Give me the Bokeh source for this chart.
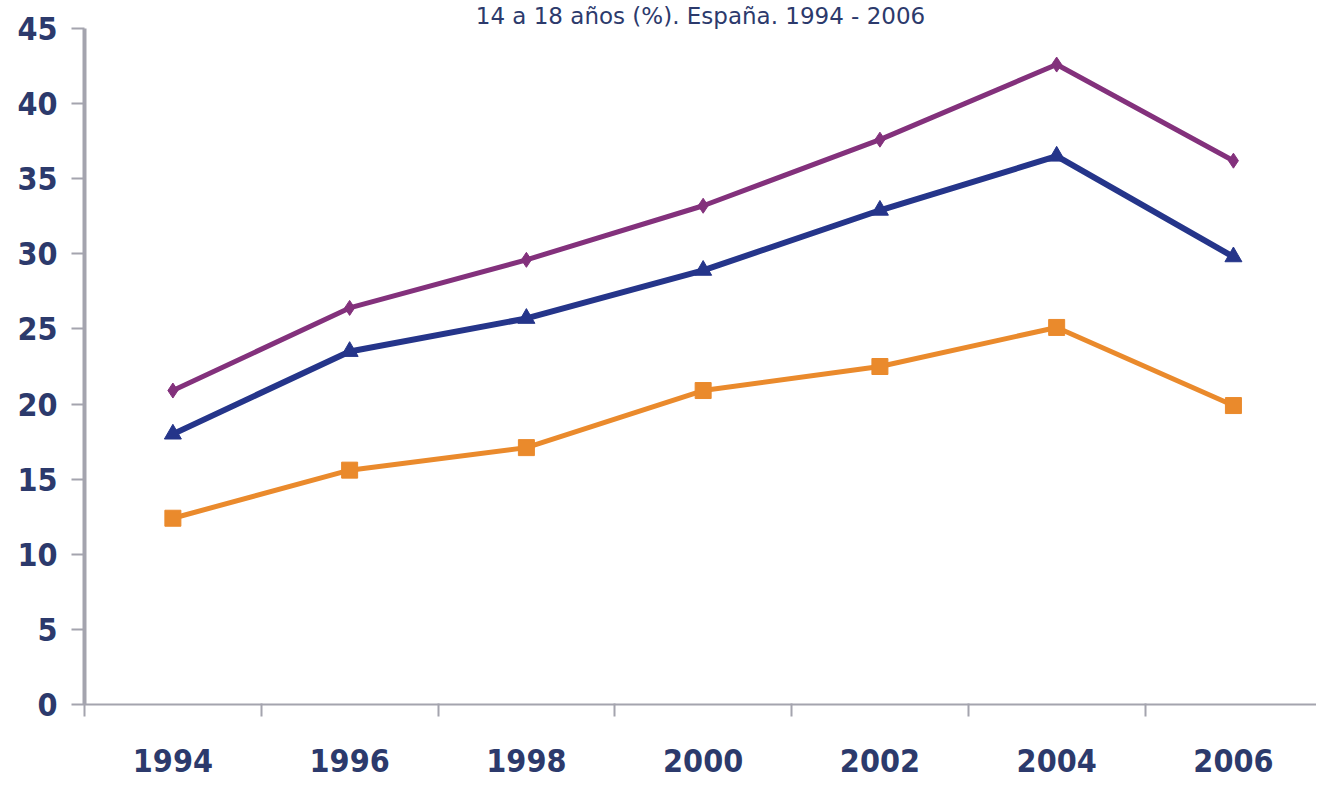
from bokeh.plotting import figure
from bokeh.models import Range1d, FixedTicker
from bokeh.embed import file_html
from bokeh.resources import INLINE

years = ["1994", "1996", "1998", "2000", "2002", "2004", "2006"]
serie_morada = [20.9, 26.4, 29.6, 33.2, 37.6, 42.6, 36.2]
serie_azul = [18.0, 23.5, 25.7, 28.9, 32.9, 36.5, 29.8]
serie_naranja = [12.4, 15.6, 17.1, 20.9, 22.5, 25.1, 19.9]
y_ticks = [0, 5, 10, 15, 20, 25, 30, 35, 40, 45]
title_text = "14 a 18 años (%). España. 1994 - 2006"

xs = list(range(len(years)))

p = figure(width=1316, height=778, output_backend="svg", toolbar_location=None,
           x_range=Range1d(-0.5, 6.47), y_range=Range1d(0, 45),
           min_border_left=84, min_border_right=0, min_border_top=0, min_border_bottom=74,
           title=title_text)
p.title.align = "center"
p.title.text_font = "DejaVu Sans"
p.title.text_font_style = "normal"
p.title.text_font_size = "23px"
p.title.text_color = "#2c3a6c"
p.title.standoff = 0
p.title.offset = 0

p.outline_line_color = None
p.grid.visible = False
p.background_fill_color = "white"
p.border_fill_color = "white"

label_color = "#2c3a6c"
axis_gray = "#a4a4ae"
font = "DejaVu Sans Condensed"

# x axis
p.xaxis.ticker = FixedTicker(ticks=xs, minor_ticks=[i - 0.5 for i in range(len(years) + 1)])
p.xaxis.major_label_overrides = {i: y for i, y in enumerate(years)}
p.xaxis.major_tick_line_color = None
p.xaxis.major_tick_out = 0
p.xaxis.major_tick_in = 0
p.xaxis.minor_tick_line_color = axis_gray
p.xaxis.minor_tick_line_width = 2
p.xaxis.minor_tick_out = 12
p.xaxis.minor_tick_in = 1
p.xaxis.axis_line_color = axis_gray
p.xaxis.axis_line_width = 2
p.xaxis.major_label_standoff = 32
p.xaxis.major_label_text_font = font
p.xaxis.major_label_text_font_style = "bold"
p.xaxis.major_label_text_font_size = "32px"
p.xaxis.major_label_text_color = label_color

# y axis
p.yaxis.ticker = FixedTicker(ticks=y_ticks, minor_ticks=[])
p.yaxis.major_tick_line_color = axis_gray
p.yaxis.major_tick_line_width = 2
p.yaxis.major_tick_out = 13
p.yaxis.major_tick_in = 0
p.yaxis.axis_line_color = axis_gray
p.yaxis.axis_line_width = 4
p.yaxis.major_label_standoff = 14
p.yaxis.major_label_text_font = font
p.yaxis.major_label_text_font_style = "bold"
p.yaxis.major_label_text_font_size = "32px"
p.yaxis.major_label_text_color = label_color

purple = "#83317c"
blue = "#25358a"
orange = "#ea8a2c"

p.line(xs, serie_morada, line_color=purple, line_width=5)
p.scatter(xs, serie_morada, marker="diamond", size=15, fill_color=purple, line_color=purple)

p.line(xs, serie_azul, line_color=blue, line_width=6)
p.scatter(xs, serie_azul, marker="triangle", size=17, fill_color=blue, line_color=blue)

p.line(xs, serie_naranja, line_color=orange, line_width=5)
p.scatter(xs, serie_naranja, marker="square", size=16, fill_color=orange, line_color=orange)

open("out.html", "w").write(file_html(p, INLINE))
